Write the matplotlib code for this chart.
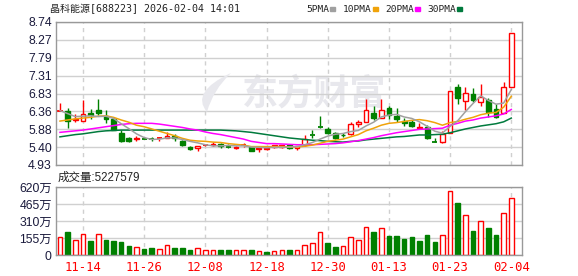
import numpy as np
import matplotlib
matplotlib.use("Agg")
import matplotlib.pyplot as plt
from matplotlib.path import Path
from matplotlib.patches import PathPatch

plt.rcParams["font.family"] = ["Liberation Sans", "Noto Sans CJK SC"]

# 日K 数据 (11-11 ~ 02-04)
opens = [6.38, 6.38, 6.13, 6.11, 6.31, 6.40, 6.24, 6.16, 5.79, 5.64,
         5.61, 5.64, 5.64, 5.63, 5.66, 5.71, 5.57, 5.42, 5.39, 5.45,
         5.47, 5.49, 5.42, 5.37, 5.44, 5.41, 5.35, 5.35, 5.40, 5.40,
         5.45, 5.38, 5.46, 5.75, 5.96, 5.90, 5.77, 5.74, 5.75, 6.01,
         6.08, 6.31, 6.17, 6.44, 6.23, 6.10, 6.08, 5.92, 5.95, 5.55,
         5.53, 5.77, 7.00, 6.63, 6.82, 6.62, 6.66, 6.42, 6.31, 7.02]
highs = [6.58, 6.45, 6.29, 6.66, 6.42, 6.69, 6.40, 6.19, 5.86, 5.67,
         5.70, 5.68, 5.68, 5.68, 5.80, 5.75, 5.60, 5.44, 5.44, 5.49,
         5.53, 5.51, 5.48, 5.43, 5.51, 5.43, 5.40, 5.40, 5.47, 5.47,
         5.47, 5.44, 5.73, 5.85, 6.24, 5.93, 5.80, 5.77, 6.07, 6.12,
         6.68, 6.50, 6.68, 6.50, 6.44, 6.17, 6.13, 6.04, 5.99, 5.66,
         5.84, 6.90, 7.09, 7.00, 6.97, 7.09, 6.71, 6.55, 7.14, 8.44]
lows = [6.38, 5.92, 6.08, 6.11, 6.16, 6.27, 6.05, 5.86, 5.55, 5.53,
        5.57, 5.61, 5.58, 5.58, 5.66, 5.57, 5.44, 5.32, 5.30, 5.43,
        5.43, 5.37, 5.39, 5.36, 5.40, 5.29, 5.28, 5.32, 5.39, 5.39,
        5.36, 5.34, 5.44, 5.66, 5.91, 5.75, 5.63, 5.68, 5.74, 5.93,
        6.07, 6.13, 6.17, 6.15, 6.07, 5.98, 5.95, 5.91, 5.61, 5.53,
        5.51, 5.77, 6.56, 6.40, 6.62, 6.50, 6.20, 6.17, 6.31, 7.00]
closes = [6.38, 6.11, 6.15, 6.29, 6.25, 6.32, 6.15, 5.86, 5.58, 5.57,
          5.65, 5.63, 5.63, 5.64, 5.71, 5.64, 5.45, 5.35, 5.44, 5.46,
          5.49, 5.44, 5.41, 5.42, 5.45, 5.31, 5.39, 5.38, 5.45, 5.46,
          5.38, 5.43, 5.62, 5.74, 5.95, 5.78, 5.66, 5.72, 6.01, 6.07,
          6.39, 6.18, 6.40, 6.26, 6.15, 6.04, 5.98, 5.95, 5.66, 5.54,
          5.75, 6.89, 6.71, 6.84, 6.66, 6.73, 6.33, 6.20, 7.00, 8.44]
# 成交量 (万)
volumes = [161, 210, 134, 189, 128, 195, 137, 128, 119, 82,
           73, 55, 64, 52, 88, 64, 64, 46, 64, 43,
           43, 46, 46, 43, 43, 46, 33, 27, 33, 43,
           46, 43, 88, 106, 207, 109, 73, 82, 164, 134,
           253, 210, 243, 173, 173, 146, 164, 128, 182, 119,
           179, 581, 474, 362, 219, 307, 246, 182, 380, 523]

ma5 = [6.38, 6.30, 6.22, 6.23, 6.24, 6.22, 6.23, 6.17, 6.03, 5.90,
       5.76, 5.66, 5.61, 5.62, 5.65, 5.65, 5.61, 5.56, 5.52, 5.47,
       5.44, 5.44, 5.45, 5.44, 5.44, 5.41, 5.40, 5.39, 5.40, 5.40,
       5.41, 5.42, 5.47, 5.53, 5.62, 5.70, 5.75, 5.77, 5.82, 5.85,
       5.97, 6.07, 6.21, 6.26, 6.28, 6.21, 6.17, 6.08, 5.96, 5.83,
       5.78, 5.96, 6.11, 6.35, 6.57, 6.77, 6.65, 6.55, 6.58, 6.94]
ma10 = [6.10, 6.13, 6.16, 6.18, 6.20, 6.23, 6.24, 6.20, 6.13, 6.07,
        5.99, 5.95, 5.89, 5.83, 5.77, 5.71, 5.64, 5.59, 5.57, 5.56,
        5.54, 5.53, 5.50, 5.48, 5.46, 5.42, 5.42, 5.42, 5.42, 5.42,
        5.41, 5.41, 5.43, 5.46, 5.51, 5.56, 5.59, 5.62, 5.68, 5.74,
        5.84, 5.91, 5.99, 6.04, 6.06, 6.09, 6.12, 6.14, 6.11, 6.06,
        5.99, 6.06, 6.09, 6.15, 6.20, 6.27, 6.31, 6.33, 6.47, 6.76]
ma20 = [5.80, 5.82, 5.84, 5.86, 5.89, 5.92, 5.95, 5.98, 6.01, 6.03,
        6.04, 6.04, 6.04, 6.02, 5.99, 5.96, 5.93, 5.89, 5.86, 5.81,
        5.77, 5.74, 5.70, 5.66, 5.62, 5.56, 5.53, 5.50, 5.50, 5.49,
        5.48, 5.47, 5.47, 5.47, 5.48, 5.49, 5.50, 5.52, 5.55, 5.58,
        5.62, 5.66, 5.71, 5.75, 5.79, 5.82, 5.85, 5.88, 5.89, 5.90,
        5.91, 5.99, 6.04, 6.10, 6.13, 6.18, 6.21, 6.24, 6.29, 6.41]
ma30 = [5.68, 5.71, 5.74, 5.76, 5.79, 5.82, 5.84, 5.85, 5.86, 5.86,
        5.86, 5.86, 5.86, 5.86, 5.86, 5.86, 5.86, 5.86, 5.86, 5.86,
        5.86, 5.86, 5.85, 5.84, 5.82, 5.80, 5.77, 5.74, 5.71, 5.68,
        5.65, 5.63, 5.61, 5.59, 5.58, 5.56, 5.55, 5.54, 5.56, 5.57,
        5.60, 5.62, 5.64, 5.66, 5.68, 5.69, 5.71, 5.73, 5.73, 5.74,
        5.75, 5.79, 5.84, 5.89, 5.93, 5.97, 6.00, 6.03, 6.08, 6.18]

date_ticks = ["11-14", "11-26", "12-08", "12-18", "12-30", "01-13", "01-23", "02-04"]
date_tick_idx = [3, 11, 19, 27, 35, 43, 51, 59]
price_labels = ["4.93", "5.40", "5.88", "6.36", "6.83", "7.31", "7.79", "8.27", "8.74"]
vol_ticks = [0, 155, 310, 465, 620]
vol_labels = ["0", "155万", "310万", "465万", "620万"]

RED = "#ff0000"
GREEN = "#008000"
GRID = "#d0d0d0"
FRAME = "#999999"
LBL = "#1a1a3c"
WM = "#e8e8ed"
MONO = ["DejaVu Sans Mono", "Noto Sans CJK SC"]

W, H = 578, 276
fig = plt.figure(figsize=(W / 100, H / 100), dpi=100)


def px_axes(l, t, r, b):
    return fig.add_axes([l / W, 1 - b / H, (r - l) / W, (b - t) / H])


def fpt(px, py):
    return (px / W, 1 - py / H)


ax = px_axes(56, 22, 522, 165)
axv = px_axes(56, 187, 522, 255)

x = np.arange(len(closes))
o, h, l, c = map(np.array, (opens, highs, lows, closes))

# 水印 (logo + 文字)
logo = Path([fpt(207, 112), fpt(190, 92), fpt(231, 73),
             fpt(213, 90), fpt(207, 112), fpt(207, 112)],
            [Path.MOVETO, Path.CURVE3, Path.CURVE3, Path.CURVE3, Path.CURVE3, Path.CLOSEPOLY])
fig.patches.append(PathPatch(logo, transform=fig.transFigure, facecolor=WM, edgecolor="none",
                             figure=fig, zorder=0))
ax.text(0.555, 0.50, "东方财富", transform=ax.transAxes, fontsize=26, fontweight="bold",
        color=WM, ha="center", va="center", family=["Noto Sans CJK SC"], zorder=0)

# K线
for i in x:
    col = RED if c[i] >= o[i] else GREEN
    top, bot = max(o[i], c[i]), min(o[i], c[i])
    ax.vlines(i, top, h[i], color=col, lw=1, zorder=2)
    ax.vlines(i, l[i], bot, color=col, lw=1, zorder=2)
    if top - bot < 0.015:
        ax.hlines(c[i], i - 0.33, i + 0.33, color=col, lw=1.3, zorder=2)
    else:
        ax.bar(i, top - bot, bottom=bot, width=0.62, lw=1, zorder=2,
               facecolor="white" if c[i] > o[i] else GREEN, edgecolor=col)

ax.plot(x, ma30, color="#007a3d", lw=1.1, zorder=3)
ax.plot(x, ma20, color="#ff00ff", lw=1.1, zorder=3)
ax.plot(x, ma10, color="#f0a30a", lw=1.1, zorder=3)
ax.plot(x, ma5, color="#a0a0a0", lw=1.1, zorder=3)

ax.set_xlim(-0.52, 60.4)
ax.set_ylim(4.93, 8.74)
ax.set_yticks(np.linspace(4.93, 8.74, 9))
ax.set_yticklabels(price_labels)
ax.set_xticks(date_tick_idx)
ax.set_xticklabels([])

# 成交量
vcol = [RED] + [RED if c[i] > c[i - 1] else GREEN for i in x[1:]]
vface = ["white" if cc == RED else GREEN for cc in vcol]
axv.bar(x, volumes, width=0.6, facecolor=vface, edgecolor=vcol, lw=1, zorder=2)
axv.set_xlim(-0.52, 60.4)
axv.set_ylim(0, 620)
axv.set_yticks(vol_ticks)
axv.set_yticklabels(vol_labels)
axv.set_xticks(date_tick_idx)
axv.set_xticklabels(date_ticks, color=RED, family=MONO, fontsize=7.3)

for a in (ax, axv):
    a.grid(axis="y", color=GRID, lw=1, zorder=0)
    a.grid(axis="x", color=GRID, lw=1, ls=(0, (3, 3)), zorder=0)
    a.set_axisbelow(True)
    for s in a.spines.values():
        s.set_color(FRAME)
        s.set_linewidth(1)
    a.tick_params(length=0, pad=3, labelsize=8.8, labelcolor=LBL)
axv.tick_params(axis="x", labelcolor=RED, pad=4)

# 标题 / 图例
fig.text(50 / W, 1 - 9 / H, "晶科能源[688223] 2026-02-04 14:01", family=MONO,
         fontsize=7.2, color="#222222", va="center")
legend = [("5PMA", "#a0a0a0", 306), ("10PMA", "#f0a30a", 343),
          ("20PMA", "#ff00ff", 385), ("30PMA", "#007a3d", 427)]
for name, col, px in legend:
    fig.text(px / W, 1 - 9 / H, name, family=MONO, fontsize=6.8, color="#222222", va="center")
    fig.patches.append(plt.Rectangle(((px + 5.6 * len(name) + 2) / W, 1 - 10.5 / H), 5 / W, 3 / H,
                                     transform=fig.transFigure, color=col, figure=fig))
fig.text(58 / W, 1 - 178 / H, "成交量:5227579", family=["Liberation Sans", "Noto Sans CJK SC"],
         fontsize=8.3, color="#222222", va="center")

plt.savefig("out.png", dpi=100)
plt.close()
